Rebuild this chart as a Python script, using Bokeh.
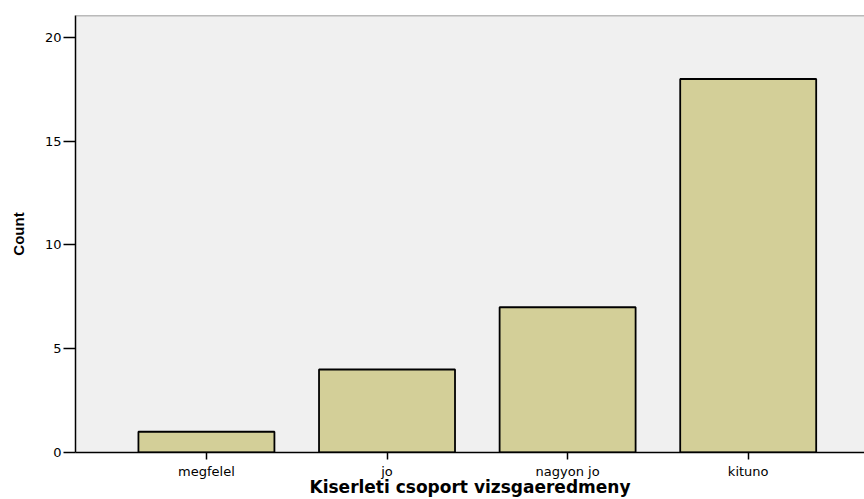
import numpy as np
from bokeh.plotting import figure
from bokeh.models import Range1d, FixedTicker, Span, ColumnDataSource
from bokeh.embed import file_html
from bokeh.resources import INLINE

categories = ["megfelel", "jo", "nagyon jo", "kituno"]
counts = [1, 4, 7, 18]
y_ticks = [0, 5, 10, 15, 20]
x_title = "Kiserleti csoport vizsgaeredmeny"
y_title = "Count"

xpos = list(range(len(categories)))
src = ColumnDataSource(dict(x=xpos, top=counts, cat=categories))

x_start, x_end = -0.725, 3.644
y_end = 21.06

p = figure(width=864, height=499, output_backend="svg", toolbar_location=None,
           x_range=Range1d(x_start, x_end), y_range=Range1d(0, y_end),
           min_border_left=75, min_border_top=15, min_border_right=0, min_border_bottom=0)

p.background_fill_color = "#f0f0f0"
p.border_fill_color = "white"
p.outline_line_color = None
p.xgrid.visible = False
p.ygrid.visible = False

p.vbar(x="x", top="top", bottom=0, width=0.753, source=src,
       fill_color="#d3cf98", line_color="black", line_width=1.8)

p.add_layout(Span(location=y_end, dimension="width", line_color="#7f7f7f", line_width=1.5))

# x axis
xa = p.xaxis[0]
xa.ticker = FixedTicker(ticks=xpos)
xa.major_label_overrides = {i: c for i, c in zip(xpos, categories)}
xa.minor_tick_line_color = None
xa.major_tick_in = 0
xa.major_tick_out = 7
xa.major_tick_line_color = "black"
xa.major_tick_line_width = 1.5
xa.axis_line_color = "black"
xa.axis_line_width = 1.5
xa.major_label_text_font = "DejaVu Sans"
xa.major_label_text_font_size = "13px"
xa.major_label_text_color = "black"
xa.major_label_standoff = 4
xa.axis_label = x_title
xa.axis_label_text_font = "DejaVu Sans"
xa.axis_label_text_font_style = "bold"
xa.axis_label_text_font_size = "17px"
xa.axis_label_text_color = "black"
xa.axis_label_standoff = -5

# y axis
ya = p.yaxis[0]
ya.ticker = FixedTicker(ticks=y_ticks)
ya.minor_tick_line_color = None
ya.major_tick_in = 0
ya.major_tick_out = 12
ya.major_tick_line_color = "black"
ya.major_tick_line_width = 1.5
ya.axis_line_color = "black"
ya.axis_line_width = 1.5
ya.major_label_text_font = "DejaVu Sans"
ya.major_label_text_font_size = "13px"
ya.major_label_text_color = "black"
ya.major_label_standoff = 2
ya.axis_label = y_title
ya.axis_label_text_font = "Liberation Sans"
ya.axis_label_text_font_style = "bold"
ya.axis_label_text_font_size = "15px"
ya.axis_label_text_color = "black"
ya.axis_label_standoff = 15

open("out.html", "w").write(file_html(p, INLINE))
